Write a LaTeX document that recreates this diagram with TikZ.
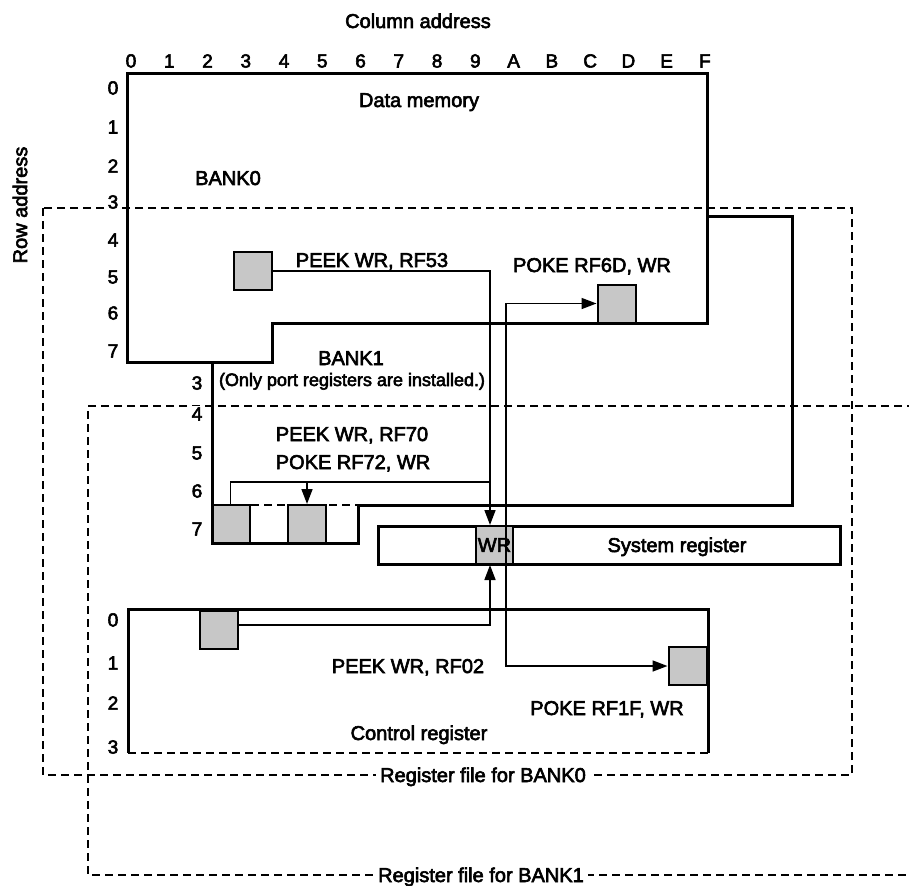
\documentclass[tikz,border=0pt]{standalone}
\usepackage{fontspec}
\setmainfont{Liberation Sans}[FakeBold=3]
\usetikzlibrary{arrows.meta}
\begin{document}
\begin{tikzpicture}[x=1pt,y=-1pt,
  txt/.style={font=\fontsize{20}{24}\selectfont, inner sep=0pt},
  smalltxt/.style={font=\fontsize{18}{22}\selectfont, inner sep=0pt},
  digit/.style={font=\fontsize{19}{22}\selectfont, inner sep=0pt},
  outline/.style={line width=3pt, line join=miter},
  dashline/.style={line width=2.4pt, dash pattern=on 8pt off 5pt},
  cell/.style={draw, line width=2pt, fill=black!22, minimum width=38pt, minimum height=38pt, inner sep=0pt},
  conn/.style={line width=1.6pt},
  arr/.style={conn, -{Triangle[length=15pt,width=11pt]}},
  gap/.style={fill=white, inner xsep=4pt, inner ysep=1pt},
]
\useasboundingbox (0,0) rectangle (909,885);

% register file frames
\draw[dashline] (43,208) rectangle (852,775);
\draw[dashline] (915,406) -- (88,406) -- (88,875) -- (915,875);

% cells
\node[cell] (c53) at (252.5,271) {};
\node[cell] (c6D) at (616.5,303.5) {};
\node[cell] (c70) at (230.5,524) {};
\node[cell] (c72) at (307,524) {};
\node[cell] (c02) at (219,630) {};
\node[cell] (c1F) at (687.5,666) {};

% system register
\node[draw, line width=3pt, minimum width=462pt, minimum height=38pt, inner sep=0pt] (sysreg) at (609,545) {};
\node[cell, minimum width=37pt, font=\fontsize{20}{22}\selectfont] (wr) at (494.5,545) {WR};
\node[txt, anchor=base] (tsys) at (677,552) {System register};

% BANK0 data memory
\draw[outline] (127,74) -- (707,74) -- (707,323) -- (272,323) -- (272,362) -- (127,362) -- cycle;
% BANK1
\draw[outline] (707,217) -- (792,217) -- (792,505) -- (358,505) -- (358,543) -- (212,543) -- (212,362);
\draw[dashline] (212,505) -- (358,505);
% control register
\draw[outline] (128,753) -- (128,609) -- (708,609) -- (708,753);
\draw[dashline] (128,753) -- (708,753);

% connectors
\coordinate (j70) at (490,482);
\coordinate (wrR) at ([xshift=11.5pt]wr.center);
\draw[arr] (c53.east) -| ([xshift=-4.5pt]wr.north);
\draw[arr] (wrR) |- (c6D.west);
\draw[arr] (wrR) |- (c1F.west);
\draw[arr] ([yshift=5pt]c02.east) -| ([xshift=-4.5pt]wr.south);
\draw[conn] (c70.north) |- (j70);
\draw[arr] (c72.north |- j70) -- (c72.north);

% titles
\node[txt, anchor=base] (tcol) at (418,28) {Column address};
\node[txt, rotate=90] (trow) at (20,205) {Row address};

% column labels
\foreach \c [count=\i from 0] in {0,1,2,3,4,5,6,7,8,9,A,B,C,D,E,F}
  \node[digit] (col\c) at (131+38.26*\i,61) {\c};

% BANK0 row labels
\foreach \r/\yy in {0/88,1/127,2/166,4/240,5/277,6/313,7/351}
  \node[digit] (rowA\r) at (113,\yy) {\r};
\node[digit, fill=white, inner sep=2pt] (rowA3) at (113,202) {3};

% BANK1 row labels
\foreach \r/\yy in {3/383,5/453,6/491,7/529}
  \node[digit] (rowB\r) at (197,\yy) {\r};
\node[digit, fill=white, inner sep=1.5pt] (rowB4) at (197,414) {4};

% control register row labels
\foreach \r/\yy in {0/620,1/663,2/703,3/747}
  \node[digit] (rowC\r) at (113,\yy) {\r};

% texts
\node[txt, anchor=base] (tdata) at (419,107) {Data memory};
\node[txt, anchor=base] (tb0) at (228,185) {BANK0};
\node[txt, anchor=base] (t53) at (372,267) {PEEK WR, RF53};
\node[txt, anchor=base] (t6D) at (592,272) {POKE RF6D, WR};
\node[txt, anchor=base] (tb1) at (351,365) {BANK1};
\node[smalltxt, anchor=base] (tonly) at (352,386) {(Only port registers are installed.)};
\node[txt, anchor=base] (t70) at (352,441) {PEEK WR, RF70};
\node[txt, anchor=base] (t72) at (353,469) {POKE RF72, WR};
\node[txt, anchor=base] (t02) at (408,673) {PEEK WR, RF02};
\node[txt, anchor=base] (t1F) at (607,715) {POKE RF1F, WR};
\node[txt, anchor=base] (tctl) at (419,740) {Control register};
\node[txt, anchor=base, gap] (trf0) at (483,782) {Register file for BANK0};
\node[txt, anchor=base, gap] (trf1) at (481,882) {Register file for BANK1};
\end{tikzpicture}
\end{document}
